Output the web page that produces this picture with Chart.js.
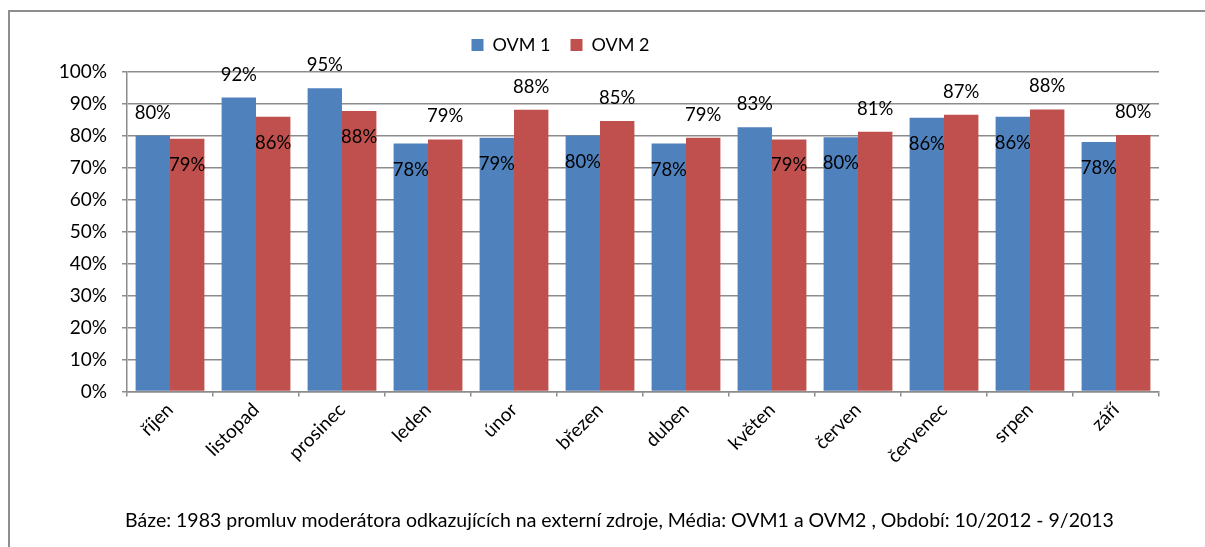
<!DOCTYPE html>
<html>
<head>
<meta charset="utf-8">
<script src="https://cdn.jsdelivr.net/npm/chart.js@4.4.1/dist/chart.umd.min.js"></script>
<style>
  html, body { margin: 0; padding: 0; background: #fff; }
  #wrap { width: 1205px; height: 547px; position: relative; }
</style>
</head>
<body>
<div id="wrap"><canvas id="myChart"></canvas></div>
<script>
const months = ['říjen', 'listopad', 'prosinec', 'leden', 'únor', 'březen', 'duben', 'květen', 'červen', 'červenec', 'srpen', 'září'];
const ovm1 = [80.1, 92.0, 94.9, 77.6, 79.4, 80.1, 77.6, 82.7, 79.6, 85.7, 86.0, 78.1];
const ovm2 = [79.1, 86.0, 87.8, 78.9, 88.2, 84.7, 79.4, 78.9, 81.3, 86.6, 88.3, 80.3];
const yTicks = [0, 10, 20, 30, 40, 50, 60, 70, 80, 90, 100];
const footnote = 'Báze: 1983 promluv moderátora odkazujících na externí zdroje, Média: OVM1 a OVM2 , Období: 10/2012 - 9/2013';

const FONT = 'Lato, "Open Sans", sans-serif';
const gridGray = '#8c8c8c';

// ramecek grafu (jen horni a leva hrana jsou videt)
const framePlugin = {
  id: 'frame',
  beforeDraw(chart) {
    const ctx = chart.ctx;
    ctx.save();
    ctx.fillStyle = '#fff';
    ctx.fillRect(0, 0, chart.width, chart.height);
    ctx.strokeStyle = '#8e8e8e';
    ctx.lineWidth = 2;
    ctx.beginPath();
    ctx.moveTo(9, chart.height);
    ctx.lineTo(9, 11);
    ctx.lineTo(chart.width, 11);
    ctx.stroke();
    ctx.restore();
  }
};

// posun legendy a popisku pod grafem
const shiftPlugin = {
  id: 'shift',
  afterLayout(chart) {
    const lg = chart.legend;
    lg.left -= 29; lg.right -= 29;
    lg.top -= 8; lg.bottom -= 8;
    const tb = chart.titleBlock;
    tb.left += 30; tb.right += 30;
  }
};

// popisky hodnot: vyssi sloupec ma popisek nad, nizsi uvnitr
const valueLabels = {
  id: 'valueLabels',
  afterDatasetsDraw(chart) {
    const ctx = chart.ctx;
    const sets = chart.data.datasets;
    ctx.save();
    ctx.font = '18.5px ' + FONT;
    ctx.fillStyle = '#000';
    ctx.textAlign = 'center';
    ctx.textBaseline = 'middle';
    sets.forEach((ds, i) => {
      const other = sets[1 - i].data;
      chart.getDatasetMeta(i).data.forEach((bar, j) => {
        const v = ds.data[j];
        const y = v > other[j] ? bar.y - 23 : bar.y + 26;
        ctx.fillText(Math.round(v) + '%', bar.x, y);
      });
    });
    ctx.restore();
  }
};

const data = {
  labels: months,
  datasets: [
    { label: 'OVM 1', data: ovm1, backgroundColor: '#4f81bd' },
    { label: 'OVM 2', data: ovm2, backgroundColor: '#c0504d' }
  ]
};

const config = {
  type: 'bar',
  data: data,
  options: {
    responsive: true,
    maintainAspectRatio: false,
    animation: false,
    devicePixelRatio: 1,
    layout: { padding: { left: 20, right: 46, top: 24, bottom: 10 } },
    datasets: { bar: { barPercentage: 1, categoryPercentage: 0.8 } },
    plugins: {
      legend: {
        position: 'top',
        labels: {
          color: '#000',
          font: { family: FONT, size: 18 },
          boxWidth: 12,
          boxHeight: 12,
          padding: 20
        }
      },
      title: {
        display: true,
        position: 'bottom',
        text: footnote,
        color: '#000',
        font: { family: FONT, size: 19.5, weight: 'normal' },
        padding: { top: 17, bottom: 5 }
      },
      tooltip: { enabled: false }
    },
    scales: {
      x: {
        grid: {
          offset: true,
          drawOnChartArea: false,
          drawTicks: true,
          tickLength: 5,
          color: gridGray,
          lineWidth: 1.5
        },
        border: { color: gridGray, width: 1.5 },
        ticks: {
          color: '#000',
          font: { family: FONT, size: 19 },
          minRotation: 45,
          maxRotation: 45,
          padding: 2
        },
        afterFit(scale) { scale.height = 100; }
      },
      y: {
        min: 0,
        max: 100,
        afterBuildTicks(scale) { scale.ticks = yTicks.map(v => ({ value: v })); },
        grid: { color: gridGray, lineWidth: 1.5, tickLength: 5 },
        border: { color: gridGray, width: 1.5 },
        ticks: {
          color: '#000',
          font: { family: FONT, size: 19 },
          padding: 15,
          callback: v => v + '%'
        },
        afterFit(scale) { scale.width = 107; }
      }
    }
  },
  plugins: [framePlugin, shiftPlugin, valueLabels]
};

const myChart = new Chart(document.getElementById('myChart'), config);
</script>
</body>
</html>
